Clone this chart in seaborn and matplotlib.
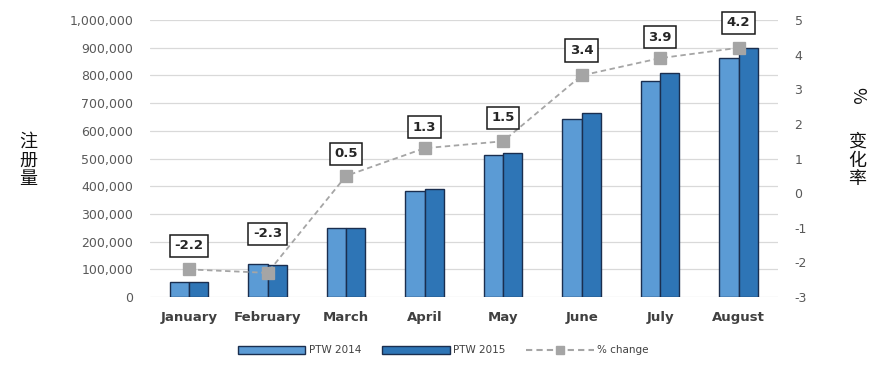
import pandas as pd
import seaborn as sns
from matplotlib import pyplot as plt
from matplotlib.ticker import FuncFormatter, MultipleLocator
from matplotlib.patches import Patch
from matplotlib.lines import Line2D

# Data
months = ['January', 'February', 'March', 'April', 'May', 'June', 'July', 'August']
ptw_2014 = [54000, 121000, 248000, 384000, 514000, 643000, 779000, 864000]
ptw_2015 = [54000, 117000, 250000, 390000, 520000, 663000, 810000, 899000]
pct_change = [-2.2, -2.3, 0.5, 1.3, 1.5, 3.4, 3.9, 4.2]
series = ['PTW 2014', 'PTW 2015']

df = pd.DataFrame({'month': months * 2,
                   'value': ptw_2014 + ptw_2015,
                   'series': [series[0]] * 8 + [series[1]] * 8})

sns.set_style('white')
plt.rcParams['font.family'] = ['DejaVu Sans', 'Noto Sans CJK SC']

fig = plt.figure(figsize=(8.86, 3.65), dpi=100)
ax = fig.add_axes([0.169, 0.186, 0.709, 0.759])

colors = ['#5B9BD5', '#2E75B6']
edge = '#1A2E4F'
sns.barplot(data=df, x='month', y='value', hue='series', palette=colors,
            saturation=1, width=0.49, edgecolor=edge, linewidth=1.0, ax=ax,
            legend=False, zorder=3)
ax.set_ylim(0, 1000000)
ax.yaxis.set_major_locator(MultipleLocator(100000))
ax.yaxis.set_major_formatter(FuncFormatter(lambda v, p: f'{int(v):,}'))
ax.grid(axis='y', color='#D9D9D9', linewidth=0.9, zorder=0)
ax.set_axisbelow(True)
for s in ax.spines.values():
    s.set_visible(False)
ax.tick_params(axis='y', length=0, labelsize=9, labelcolor='#595959', pad=12)
ax.tick_params(axis='x', length=0, labelsize=9.5, labelcolor='#404040', pad=10)
for t in ax.get_xticklabels():
    t.set_fontweight('bold')
ax.set_xlabel('')
ax.set_ylabel('')

ax2 = ax.twinx()
sns.pointplot(x=months, y=pct_change, ax=ax2, color='#A5A5A5', markers='s',
              linestyles=(0, (3, 2)), markersize=8, linewidth=1.3, zorder=5)
ax2.set_ylim(-3, 5)
ax2.yaxis.set_major_locator(MultipleLocator(1))
ax2.yaxis.set_major_formatter(FuncFormatter(lambda v, p: f'{int(round(v))}'))
for s in ax2.spines.values():
    s.set_visible(False)
ax2.tick_params(axis='y', length=0, labelsize=9, labelcolor='#595959', pad=12)
ax2.set_xlabel('')
ax2.set_ylabel('')

offsets = [17, 28, 16, 15, 17, 18, 15, 18]
for i, (v, off) in enumerate(zip(pct_change, offsets)):
    ax2.annotate(f'{v}', (i, v), xytext=(0, off), textcoords='offset points',
                 ha='center', va='center', fontsize=9.5, fontweight='bold',
                 color='#262626',
                 bbox=dict(boxstyle='square,pad=0.35', fc='white',
                           ec='#1a1a1a', lw=1.1), zorder=6)

cjk = ['Noto Sans CJK SC']
fig.text(0.032, 0.56, '注\n册\n量', family=cjk, fontsize=13, ha='center',
         va='center', linespacing=1.05, color='#111111')
fig.text(0.967, 0.74, '%', family=cjk, fontsize=13, ha='center',
         va='center', rotation=270, color='#111111')
fig.text(0.967, 0.56, '变\n化\n率', family=cjk, fontsize=13, ha='center',
         va='center', linespacing=1.05, color='#111111')

handles = [Patch(facecolor=colors[0], edgecolor=edge, label=series[0]),
           Patch(facecolor=colors[1], edgecolor=edge, label=series[1]),
           Line2D([], [], color='#A5A5A5', linestyle=(0, (3, 2)), marker='s',
                  markersize=6, label='% change')]
fig.legend(handles=handles, loc='center', bbox_to_anchor=(0.5, 0.04),
           ncol=3, frameon=False, fontsize=7.5, handlelength=6.5,
           handleheight=0.8, handletextpad=0.3, columnspacing=2.0,
           labelcolor='#404040')

fig.savefig('out.png', dpi=100)
